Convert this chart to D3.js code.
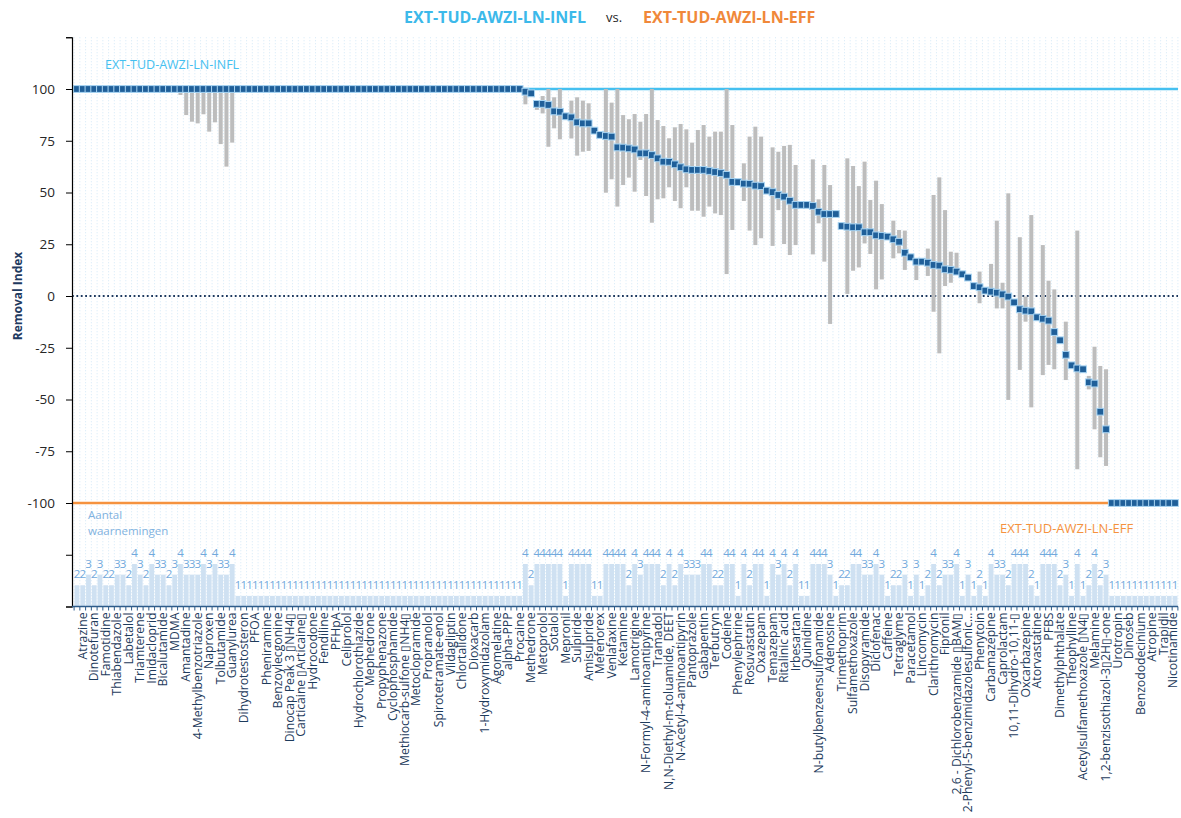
<!DOCTYPE html>
<html><head><meta charset="utf-8">
<script src="https://cdn.jsdelivr.net/npm/d3@7"></script>
<style>
body{margin:0;background:#fff;}
svg{display:block;font-family:"Open Sans",sans-serif;}
</style>
</head><body>
<svg id="c" width="1181" height="818"></svg>
<script>
// Visible category labels (every second category is labelled on the axis)
const labels = ["Atrazine","Dinotefuran","Famotidine","Thiabendazole","Labetalol","Triamterene","Imidacloprid","Bicalutamide","MDMA","Amantadine","4-Methylbenzotriazole","Naproxen","Tolbutamide","Guanylurea","Dihydrotestosteron","PFOA","Pheniramine","Benzoylecgonine","Dinocap Peak 3 ▯NH4▯","Carticaine ▯Articaine▯","Hydrocodone","Fendiline","PFHpA","Celiprolol","Hydrochlorothiazide","Mephedrone","Propyphenazone","Cyclophosphamide","Methiocarb-sulfone ▯NH4▯","Metoclopramide","Propranolol","Spirotetramate-enol","Vildagliptin","Chlortalidone","Dioxacarb","1-Hydroxymidazolam","Agomelatine","alpha-PPP","Procaine","Methedrone","Metoprolol","Sotalol","Mepronil","Sulpiride","Amisulpride","Mefenorex","Venlafaxine","Ketamine","Lamotrigine","N-Formyl-4-aminoantipyrine","Tramadol","N,N-Diethyl-m-toluamide, DEET","N-Acetyl-4-aminoantipyrin","Pantoprazole","Gabapentin","Terbutryn","Codeine","Phenylephrine","Rosuvastatin","Oxazepam","Temazepam","Ritalinic acid","Irbesartan","Quinidine","N-butylbenzeensulfonamide","Adenosine","Trimethoprim","Sulfamethoxazole","Disopyramide","Diclofenac","Caffeine","Tetraglyme","Paracetamol","Lincomycin","Clarithromycin","Fipronil","2,6 - Dichlorobenzamide ▯BAM▯","2-Phenyl-5-benzimidazolesulfonic…","Phenytoin","Carbamazepine","Caprolactam","10,11-Dihydro-10,11-▯","Oxcarbazepine","Atorvastatine","PFBS","Dimethylphthalate","Theophylline","Acetylsulfamethoxazole ▯N4▯","Melamine","1,2-benzisothiazol-3▯2H▯-one","Urotropin","Dinoseb","Benzododecinium","Atropine","Trapidil","Nicotinamide"];

// Removal index (median marker) per category
const values = [
100,100,100,100,100,100,100,100,100,100,
100,100,100,100,100,100,100,100,100,100,
100,100,100,100,100,100,100,100,100,100,
100,100,100,100,100,100,100,100,100,100,
100,100,100,100,100,100,100,100,100,100,
100,100,100,100,100,100,100,100,100,100,
100,100,100,100,100,100,100,100,100,100,
100,100,100,100,100,100,100,100,
98.7,97.9,92.8,92.8,92.3,89.2,89.0,86.8,86.3,83.9,
83.4,83.4,79.9,77.8,77.3,77.0,71.8,71.7,71.3,70.8,
68.9,68.9,68.1,66.5,64.9,64.8,63.6,62.2,61.2,60.9,
60.9,60.9,60.4,59.9,59.4,58.5,55.1,55.0,54.3,54.2,
53.3,53.1,50.9,50.2,48.8,48.0,46.0,44.0,44.0,44.0,
43.5,40.7,39.6,39.6,39.6,33.8,33.5,33.2,33.2,30.8,
30.8,29.3,29.0,28.7,27.4,26.2,20.9,18.7,16.6,16.6,
16.1,15.0,14.7,12.9,12.6,11.8,10.5,8.9,4.8,4.2,
2.6,2.1,1.6,0.8,-0.3,-3.1,-6.4,-7.1,-7.4,-10.3,
-11.0,-11.9,-17.4,-21.4,-28.4,-33.5,-35.0,-35.4,-41.7,-42.3,
-55.9,-64.4,
-100,-100,-100,-100,-100,-100,-100,-100,-100,-100,-100,-100];

// Range (min / max) per category, null where no range is drawn
const rangeLow = [
null,null,null,null,null,null,null,null,null,null,
null,null,null,null,null,null,null,null,97.1,87.4,
84.2,83.4,87.8,79.4,83.9,73.4,62.5,74.1,null,null,
null,null,null,null,null,null,null,null,null,null,
null,null,null,null,null,null,null,null,null,null,
null,null,null,null,null,null,null,null,null,null,
null,null,null,null,null,null,null,null,null,null,
null,null,null,null,null,null,null,null,
92.6,96.5,89.9,88.2,72.1,81.0,75.7,null,76.1,67.8,
69.7,70.1,null,null,49.9,56.4,43.2,53.6,57.2,50.4,
65.7,48.3,35.4,46.7,47.2,52.5,45.9,42.4,52.5,41.2,
41.2,38.3,43.2,39.9,39.1,10.6,31.9,null,45.9,31.6,
24.6,27.9,null,24.2,41.5,25.1,19.8,24.6,null,null,
20.1,35.1,16.6,-13.5,null,null,1.0,12.2,13.8,25.4,
20.3,3.2,8.0,null,18.2,20.6,12.6,null,7.7,null,
9.7,-7.6,-27.7,4.8,6.4,10.6,null,null,null,-3.5,
null,2.6,-6.0,-6.0,-50.2,null,-35.7,-12.4,-53.8,null,
-38.2,-33.3,-35.4,null,-40.6,null,-83.7,null,-45.1,-64.4,
-77.9,-82.1,
null,null,null,null,null,null,null,null,null,null,null,null];

const rangeHigh = [
null,null,null,null,null,null,null,null,null,null,
null,null,null,null,null,null,null,null,100,100,
100,100,100,100,100,100,100,100,null,null,
null,null,null,null,null,null,null,null,null,null,
null,null,null,null,null,null,null,null,null,null,
null,null,null,null,null,null,null,null,null,null,
null,null,null,null,null,null,null,null,null,null,
null,null,null,null,null,null,null,null,
100,99.5,94.0,96.6,100,96.0,100,null,94.4,96.0,
94.4,93.1,null,null,100,93.4,100,87.4,85.4,87.9,
84.2,87.9,100,85.0,82.1,76.2,81.5,83.1,80.5,74.1,
80.2,82.6,77.0,79.4,79.4,100,82.6,null,64.1,77.0,
81.8,77.0,null,71.8,69.7,72.5,73.0,63.3,null,null,
66.0,46.7,63.3,53.6,null,null,66.5,62.8,53.1,64.9,
46.4,55.7,44.4,null,36.4,31.9,31.6,null,16.6,null,
22.9,48.8,57.3,41.5,21.4,20.9,null,null,null,11.8,
null,15.5,36.4,6.4,49.6,null,28.4,-0.3,39.1,null,
24.6,7.4,3.2,null,-12.4,null,31.6,null,-38.6,-24.5,
-33.8,-35.4,
null,null,null,null,null,null,null,null,null,null,null,null];

// Number of observations per category
const counts = [
2,2,3,2,3,2,2,3,3,2,4,3,2,4,3,3,2,3,4,3,3,3,4,3,4,3,3,4,
1,1,1,1,1,1,1,1,1,1,1,1,1,1,1,1,1,1,1,1,1,1,1,1,1,1,1,1,1,1,1,1,1,1,1,1,1,1,1,1,1,1,1,1,1,1,1,1,1,1,
4,2,4,4,4,4,4,1,4,4,
4,4,1,1,4,4,4,4,2,4,
3,4,4,4,2,4,2,4,3,3,
3,4,4,2,2,4,4,1,4,2,
4,4,1,4,3,4,2,4,1,1,
4,4,4,3,1,2,2,4,4,3,
3,4,3,1,2,2,3,1,3,1,
2,4,2,3,3,4,1,3,1,2,
1,4,3,3,2,4,4,4,2,1,
4,4,4,2,3,1,4,1,2,4,
2,3,
1,1,1,1,1,1,1,1,1,1,1,1];

const yTicks = [-150,-125,-100,-75,-50,-25,0,25,50,75,100,125];
const yLabelled = [-100,-75,-50,-25,0,25,50,75,100];
const refLines = [{v:100, name:"EXT-TUD-AWZI-LN-INFL", color:"#45c0f0"},{v:-100, name:"EXT-TUD-AWZI-LN-EFF", color:"#f5923e"}];

const svg = d3.select("#c");
const N = values.length;
const idx = d3.range(N);
const x = d3.scaleBand().domain(idx).range([74.1, 1177.9]).padding(0);
const bw = x.bandwidth();
const cx = i => x(i) + bw/2;
const y = d3.scaleLinear().domain([-150,125]).range([606.5,37.25]);
const cScale = d3.scaleLinear().domain([0,4]).range([y(-150), 564]);

// Title
svg.append("text").attr("x",586).attr("y",23).attr("text-anchor","end")
  .style("font-size","16px").style("font-weight","bold").style("fill","#3cb9ea").text("EXT-TUD-AWZI-LN-INFL");
svg.append("text").attr("x",606).attr("y",22)
  .style("font-size","13px").style("fill","#262626").text("vs.");
svg.append("text").attr("x",643).attr("y",23)
  .style("font-size","16px").style("font-weight","bold").style("fill","#f0883a").text("EXT-TUD-AWZI-LN-EFF");

// vertical dotted gridlines at category boundaries
svg.append("g").selectAll("line").data(d3.range(N+1)).join("line")
  .attr("x1", i => i<N ? x(i) : x(N-1)+bw).attr("x2", i => i<N ? x(i) : x(N-1)+bw)
  .attr("y1", y(125)).attr("y2", y(-150))
  .attr("stroke","#d3e8f7").attr("stroke-width",1).attr("stroke-dasharray","1,2");

// count bars
svg.append("g").selectAll("rect").data(idx).join("rect")
  .attr("x", i => cx(i) - 2.4).attr("width", 4.8)
  .attr("y", i => cScale(counts[i])).attr("height", i => y(-150) - cScale(counts[i]))
  .attr("fill","#cfe1f2");
svg.append("g").selectAll("text").data(idx).join("text")
  .attr("x", cx).attr("y", i => cScale(counts[i]) - 7)
  .attr("text-anchor","middle")
  .style("font-size","11.5px").style("fill","#72a9dc")
  .text(i => counts[i]);

svg.append("text").attr("x",88).attr("y",519).style("font-size","11.5px").style("fill","#7fb2e0").text("Aantal");
svg.append("text").attr("x",88).attr("y",535).style("font-size","11.5px").style("fill","#7fb2e0").text("waarnemingen");

// zero line
svg.append("line").attr("x1",72).attr("x2",1178).attr("y1",y(0)).attr("y2",y(0))
  .attr("stroke","#1f3a5f").attr("stroke-width",1.8).attr("stroke-dasharray","1.8,2.6");

// reference lines
refLines.forEach(r => {
  svg.append("line").attr("x1",72).attr("x2",1178).attr("y1",y(r.v)).attr("y2",y(r.v))
    .attr("stroke",r.color).attr("stroke-width",2.5);
});
svg.append("text").attr("x",105).attr("y",69).style("font-size","12.5px").style("fill",refLines[0].color).text(refLines[0].name);
svg.append("text").attr("x",1000).attr("y",533).style("font-size","13px").style("fill",refLines[1].color).text(refLines[1].name);

// range bars
const withRange = idx.filter(i => rangeLow[i] !== null);
svg.append("g").selectAll("rect").data(withRange).join("rect")
  .attr("x", i => cx(i) - 2).attr("width", 4)
  .attr("y", i => y(rangeHigh[i])).attr("height", i => y(rangeLow[i]) - y(rangeHigh[i]))
  .attr("fill","#bdbdbd");

// markers
svg.append("g").selectAll("rect").data(idx).join("rect")
  .attr("x", i => cx(i) - 3.4).attr("y", i => y(values[i]) - 3.4)
  .attr("width", 6.8).attr("height", 6.8)
  .attr("fill","#1f5f99").attr("stroke","#a9d5f3").attr("stroke-width",1);

// y axis
const yAxis = d3.axisLeft(y).tickValues(yTicks).tickSize(6).tickPadding(11)
  .tickFormat(d => yLabelled.includes(d) ? d : "");
const gy = svg.append("g").attr("transform","translate(72,0)").call(yAxis);
gy.select(".domain").attr("stroke","#000").attr("stroke-width",1.2);
gy.selectAll(".tick line").attr("stroke","#000");
gy.selectAll(".tick text").style("font-size","13.5px").style("fill","#262626").style("font-family","'Open Sans',sans-serif");

svg.append("text").attr("transform","translate(22,296) rotate(-90)").attr("text-anchor","middle")
  .style("font-size","12px").style("font-weight","bold").style("fill","#1f3a5f").text("Removal Index");

// x axis
svg.append("line").attr("x1",72).attr("x2",1178).attr("y1",y(-150)).attr("y2",y(-150))
  .attr("stroke","#2e5c8a").attr("stroke-width",1.5);
svg.append("g").selectAll("line").data(d3.range(N+1)).join("line")
  .attr("x1", i => i<N ? x(i) : x(N-1)+bw).attr("x2", i => i<N ? x(i) : x(N-1)+bw)
  .attr("y1", y(-150)).attr("y2", y(-150)+4).attr("stroke","#2e5c8a").attr("stroke-width",1);

const xAxis = d3.axisBottom(x).tickValues(idx.filter(i => i % 2 === 1))
  .tickFormat(i => labels[(i-1)/2]).tickSize(0);
const gx = svg.append("g").attr("transform",`translate(0,${y(-150)})`).call(xAxis);
gx.select(".domain").remove();
gx.selectAll(".tick text")
  .attr("transform","rotate(-90)").attr("text-anchor","end")
  .attr("x",-6).attr("y", i => i === N-1 ? -1.8 : 0).attr("dy","0.33em")
  .style("font-size","12.2px").style("fill","#1e3b5c").style("font-family","'Open Sans',sans-serif");
</script>
</body></html>
